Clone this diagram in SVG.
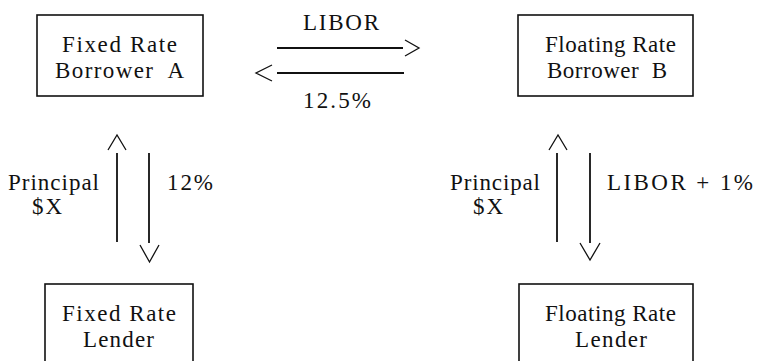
<svg xmlns="http://www.w3.org/2000/svg" width="762" height="361" viewBox="0 0 762 361">
  <style>
    .box { fill: none; stroke: #111; stroke-width: 1.6; }
    .lbl { font-family: "Liberation Serif", "Times New Roman", Tinos, "DejaVu Serif", "Noto Serif", serif; font-size: 23px; fill: #111; }
    .flow { fill: none; stroke: #111; stroke-width: 1.8; }
    .head { fill: none; stroke: #111; stroke-width: 1.3; stroke-linejoin: miter; }
  </style>
  <rect width="762" height="361" fill="#fff"/>

  <g id="borrower-a">
    <rect class="box" x="37" y="15" width="166" height="81"/>
    <text class="lbl" x="62" y="52" textLength="115" lengthAdjust="spacing">Fixed Rate</text>
    <text class="lbl" x="55" y="78" textLength="129" lengthAdjust="spacing" xml:space="preserve">Borrower  A</text>
  </g>

  <g id="borrower-b">
    <rect class="box" x="518" y="15" width="175" height="81"/>
    <text class="lbl" x="545" y="52" textLength="131" lengthAdjust="spacing">Floating Rate</text>
    <text class="lbl" x="547" y="78" textLength="120" lengthAdjust="spacing" xml:space="preserve">Borrower  B</text>
  </g>

  <g id="fixed-lender">
    <rect class="box" x="45" y="284" width="148" height="100"/>
    <text class="lbl" x="62" y="321" textLength="114" lengthAdjust="spacing">Fixed Rate</text>
    <text class="lbl" x="83" y="347" textLength="71" lengthAdjust="spacing">Lender</text>
  </g>

  <g id="floating-lender">
    <rect class="box" x="519" y="284" width="174" height="100"/>
    <text class="lbl" x="545" y="321" textLength="131" lengthAdjust="spacing">Floating Rate</text>
    <text class="lbl" x="575" y="347" textLength="72" lengthAdjust="spacing">Lender</text>
  </g>

  <g id="connectors">
    <!-- swap payments between the two borrowers -->
    <line class="flow" x1="277" y1="48" x2="403" y2="48"/>
    <polyline class="head" points="405,40 419,48 405,56"/>
    <line class="flow" x1="277" y1="73" x2="404" y2="73"/>
    <polyline class="head" points="272,65 256,73 272,81"/>

    <!-- fixed rate loan -->
    <line class="flow" x1="117" y1="153" x2="117" y2="242"/>
    <polyline class="head" points="108,150 117,135 126,150"/>
    <line class="flow" x1="149" y1="153" x2="149" y2="243"/>
    <polyline class="head" points="140,245 149.5,262 159,245"/>

    <!-- floating rate loan -->
    <line class="flow" x1="557" y1="153" x2="557" y2="242"/>
    <polyline class="head" points="549,150 558,135 567,150"/>
    <line class="flow" x1="590" y1="153" x2="590" y2="243"/>
    <polyline class="head" points="580,243 590,260 600,243"/>

    <text class="lbl" x="303" y="30" textLength="76" lengthAdjust="spacing">LIBOR</text>
    <text class="lbl" x="303" y="108" textLength="68" lengthAdjust="spacing">12.5%</text>
    <text class="lbl" x="8" y="190" textLength="91" lengthAdjust="spacing">Principal</text>
    <text class="lbl" x="32" y="214" textLength="30" lengthAdjust="spacing">$X</text>
    <text class="lbl" x="167" y="190" textLength="46" lengthAdjust="spacing">12%</text>
    <text class="lbl" x="450" y="190" textLength="90" lengthAdjust="spacing">Principal</text>
    <text class="lbl" x="473" y="214" textLength="30" lengthAdjust="spacing">$X</text>
    <text class="lbl" x="607" y="190" textLength="146" lengthAdjust="spacing" xml:space="preserve">LIBOR + 1%</text>
  </g>
</svg>
